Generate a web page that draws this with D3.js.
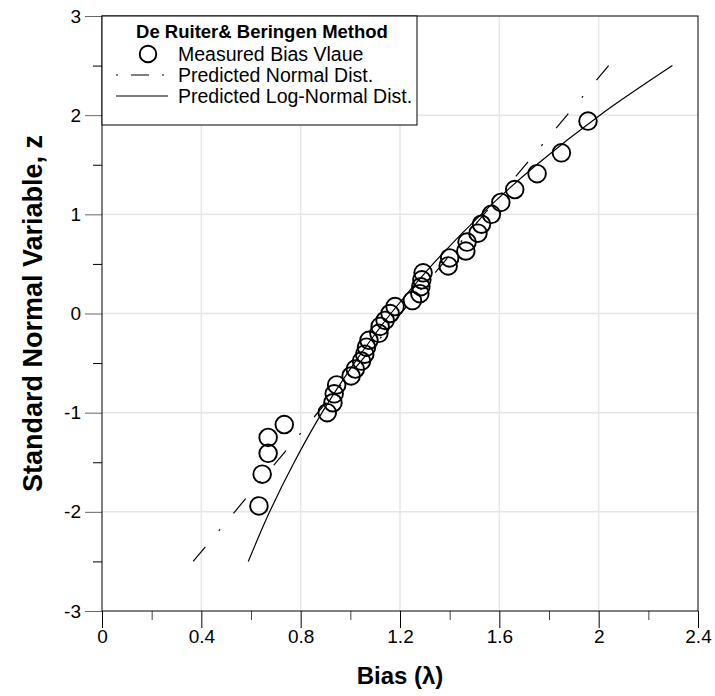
<!DOCTYPE html>
<html>
<head>
<meta charset="utf-8">
<script src="https://cdn.jsdelivr.net/npm/d3@7"></script>
<style>
  html, body { margin: 0; padding: 0; background: #fff; }
  svg { display: block; font-family: "Liberation Sans", Arial, sans-serif; }
</style>
</head>
<body>
<svg id="chart" width="715" height="696"></svg>
<script>
// Measured bias values (sorted) and their standard normal variates
const measuredZ = [-1.94, -1.62, -1.41, -1.25, -1.12, -1.00, -0.90, -0.81, -0.72, -0.63,
                   -0.56, -0.48, -0.41, -0.34, -0.27, -0.20, -0.13, -0.07, 0.00,
                   0.07, 0.13, 0.20, 0.27, 0.34, 0.41, 0.48, 0.56, 0.63, 0.72,
                   0.81, 0.90, 1.00, 1.12, 1.25, 1.41, 1.62, 1.94];
const measuredBias = [0.632, 0.645, 0.669, 0.669, 0.734, 0.907, 0.930, 0.935, 0.945, 1.003,
                      1.020, 1.045, 1.058, 1.065, 1.075, 1.115, 1.120, 1.140, 1.160,
                      1.180, 1.250, 1.280, 1.284, 1.288, 1.293, 1.394, 1.400, 1.465, 1.470,
                      1.514, 1.528, 1.568, 1.606, 1.662, 1.752, 1.850, 1.957];

// Predicted normal distribution (straight line on the probability scale)
const normalBias = [0.367, 2.040];
const normalZ = [-2.5, 2.5];

// Predicted log-normal distribution
const logNormalBias = [0.589, 0.675, 0.774, 0.886, 1.016, 1.163, 1.333, 1.527, 1.750, 2.005, 2.297];
const logNormalZ = [-2.5, -2.0, -1.5, -1.0, -0.5, 0.0, 0.5, 1.0, 1.5, 2.0, 2.5];

// Axis ticks
const xMajor = [0, 0.4, 0.8, 1.2, 1.6, 2.0, 2.4];
const xMajorLabels = ["0", "0.4", "0.8", "1.2", "1.6", "2", "2.4"];
const xMinor = [0.2, 0.6, 1.0, 1.4, 1.8, 2.2];
const yMajor = [-3, -2, -1, 0, 1, 2, 3];
const yMajorLabels = ["-3", "-2", "-1", "0", "1", "2", "3"];
const yMinor = [-2.5, -1.5, -0.5, 0.5, 1.5, 2.5];

const legendTitle = "De Ruiter& Beringen Method";
const legendItems = ["Measured Bias Vlaue", "Predicted Normal Dist.", "Predicted Log-Normal Dist."];

const svg = d3.select("#chart");
const plotLeft = 102, plotRight = 698, plotTop = 16, plotBottom = 611;

const x = d3.scaleLinear().domain([0, 2.4]).range([plotLeft, plotRight]);
const y = d3.scaleLinear().domain([-3, 3]).range([plotBottom, plotTop]);

// Grid
const grid = svg.append("g").attr("stroke", "#e6e6e6").attr("stroke-width", 1.5);
grid.selectAll("line.gx").data(xMajor.slice(1, -1)).join("line").attr("class", "gx")
  .attr("x1", d => x(d)).attr("x2", d => x(d)).attr("y1", plotTop).attr("y2", plotBottom);
grid.selectAll("line.gy").data(yMajor.slice(1, -1)).join("line").attr("class", "gy")
  .attr("x1", plotLeft).attr("x2", plotRight).attr("y1", d => y(d)).attr("y2", d => y(d));

// Axes
function styleAxis(color) {
  return g => {
    g.select(".domain").remove();
    g.selectAll(".tick line").attr("stroke", color).attr("stroke-width", 1);
    g.selectAll(".tick text").attr("fill", "#000").attr("font-size", 19)
      .attr("font-family", "'Liberation Sans', Arial, sans-serif");
  };
}
svg.append("g").attr("transform", `translate(0,${plotBottom})`)
  .call(d3.axisBottom(x).tickValues(xMinor).tickSize(9).tickFormat(""))
  .call(styleAxis("#444"));
svg.append("g").attr("transform", `translate(0,${plotBottom})`)
  .call(d3.axisBottom(x).tickValues(xMajor).tickSize(17).tickPadding(2)
        .tickFormat((d, i) => xMajorLabels[i]))
  .call(styleAxis("#000"));
svg.append("g").attr("transform", `translate(${plotLeft},0)`)
  .call(d3.axisLeft(y).tickValues(yMinor).tickSize(9).tickFormat(""))
  .call(styleAxis("#000"));
svg.append("g").attr("transform", `translate(${plotLeft},0)`)
  .call(d3.axisLeft(y).tickValues(yMajor).tickSize(17).tickPadding(4)
        .tickFormat((d, i) => yMajorLabels[i]))
  .call(styleAxis("#666"));

// Fitted curves
const line = d3.line().x(d => x(d[0])).y(d => y(d[1]));
svg.append("path")
  .datum(normalBias.map((b, i) => [b, normalZ[i]]))
  .attr("d", line)
  .attr("fill", "none").attr("stroke", "#000").attr("stroke-width", 1.2)
  .attr("stroke-dasharray", "19,20.9,2,20.9");
svg.append("path")
  .datum(logNormalBias.map((b, i) => [b, logNormalZ[i]]))
  .attr("d", line.curve(d3.curveCatmullRom))
  .attr("fill", "none").attr("stroke", "#000").attr("stroke-width", 1.2);

// Measured points
svg.append("g").selectAll("circle")
  .data(measuredBias.map((b, i) => [b, measuredZ[i]]))
  .join("circle")
  .attr("cx", d => x(d[0])).attr("cy", d => y(d[1])).attr("r", 8.8)
  .attr("fill", "none").attr("stroke", "#000").attr("stroke-width", 1.9);

// Frame
svg.append("rect").attr("x", plotLeft).attr("y", plotTop)
  .attr("width", plotRight - plotLeft).attr("height", plotBottom - plotTop)
  .attr("fill", "none").attr("stroke", "#000").attr("stroke-width", 1);

// Legend
const lg = svg.append("g");
lg.append("rect").attr("x", 102).attr("y", 16).attr("width", 315).attr("height", 109)
  .attr("fill", "#fff").attr("stroke", "#000").attr("stroke-width", 1);
lg.append("text").attr("x", 262).attr("y", 38).attr("text-anchor", "middle")
  .attr("font-size", 18.5).attr("font-weight", "bold").text(legendTitle);
const rowY = [54, 75, 96];
lg.append("circle").attr("cx", 148).attr("cy", rowY[0]).attr("r", 8.3)
  .attr("fill", "none").attr("stroke", "#000").attr("stroke-width", 1.9);
lg.append("line").attr("x1", 116).attr("x2", 170).attr("y1", rowY[1]).attr("y2", rowY[1])
  .attr("stroke", "#000").attr("stroke-width", 1.2).attr("stroke-dasharray", "2,13,18,13,2,40");
lg.append("line").attr("x1", 116).attr("x2", 168).attr("y1", rowY[2]).attr("y2", rowY[2])
  .attr("stroke", "#000").attr("stroke-width", 1.2);
lg.selectAll("text.item").data(legendItems).join("text")
  .attr("class", "item")
  .attr("x", 178).attr("y", (d, i) => rowY[i] + 6.5)
  .attr("font-size", 19.5).text(d => d);

// Axis titles
svg.append("text").attr("x", 400).attr("y", 684)
  .attr("text-anchor", "middle").attr("font-size", 24).attr("font-weight", "bold")
  .text("Bias (λ)");
svg.append("text")
  .attr("transform", `translate(42,${(plotTop + plotBottom) / 2}) rotate(-90)`)
  .attr("text-anchor", "middle").attr("font-size", 27).attr("font-weight", "bold")
  .text("Standard Normal Variable, z");
</script>
</body>
</html>
